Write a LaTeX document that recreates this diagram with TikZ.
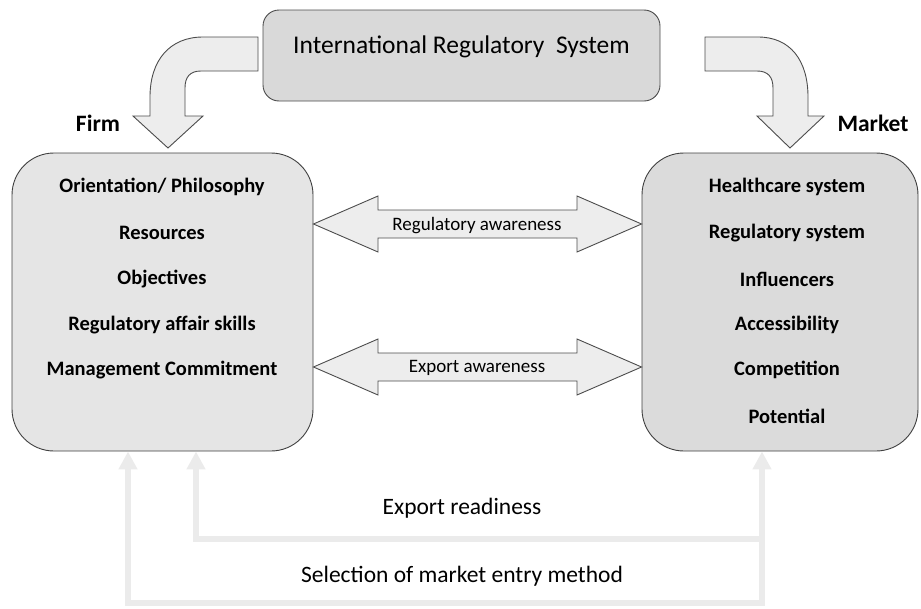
\documentclass[tikz,border=0pt]{standalone}
\usepackage{fontspec}
\setmainfont{Carlito}
\usepackage{tikz}
\usetikzlibrary{arrows.meta}

\tikzset{
	sysbox/.style={draw=black!70, line width=0.9pt, fill=gray!30, rounded corners=16pt},
	sidebox/.style={draw=black!75, line width=0.9pt, rounded corners=42pt},
	item/.style={font=\fontsize{20.5}{22}\selectfont\bfseries, inner sep=0pt},
	side/.style={font=\fontsize{23.5}{25}\selectfont\bfseries, inner sep=0pt},
	awlabel/.style={font=\fontsize{19}{21}\selectfont, inner sep=0pt},
	fblabel/.style={font=\fontsize{23.5}{25}\selectfont, inner sep=0pt},
	bigarrow/.style={draw=black!70, line width=0.9pt, fill=gray!14},
	feedback/.style={draw=gray!16, line width=5.5pt, -{Triangle[width=18pt,length=18pt]}},
}

\begin{document}
\begin{tikzpicture}[x=1pt, y=-1pt]
	
	\useasboundingbox (0,0) rectangle (921,608);
	
	\node[sysbox, minimum width=397pt, minimum height=91pt] (irs) at (461.5,55.5) {};
	\node[font=\fontsize{25.5}{27}\selectfont, inner sep=0pt] (irst) at (461.5,47) {International Regulatory\ \ System};
	
	\node[sidebox, fill=gray!20, minimum width=301pt, minimum height=298pt] (firm) at (162.5,302) {};
	\node[sidebox, fill=gray!28, minimum width=276pt, minimum height=298pt] (market) at (780,302) {};
	
	\node[side] (firmlbl) at (98,123) {Firm};
	\node[side] (marketlbl) at (873,123) {Market};
	
	\node[item] (f1) at (162,187) {Orientation/ Philosophy};
	\node[item] (f2) at (162,233) {Resources};
	\node[item] (f3) at (162,279) {Objectives};
	\node[item] (f4) at (162,325) {Regulatory affair skills};
	\node[item] (f5) at (162,370) {Management Commitment};
	
	\node[item] (m1) at (787,187) {Healthcare system};
	\node[item] (m2) at (787,233) {Regulatory system};
	\node[item] (m3) at (787,279) {Influencers};
	\node[item] (m4) at (787,325) {Accessibility};
	\node[item] (m5) at (787,370) {Competition};
	\node[item] (m6) at (787,416) {Potential};
	
	% curved arrows from the top box
	\draw[bigarrow] (258,37) -- (203,37) .. controls (170,37) and (150,60) .. (150,97) -- (150,116) -- (133,116) -- (168,148) -- (203,116) -- (185,116) -- (185,88) .. controls (185,77) and (190,71) .. (201,71) -- (258,71) -- cycle;
	\draw[bigarrow] (705,37) -- (758,37) .. controls (790,37) and (808,60) .. (808,97) -- (808,116) -- (824,116) -- (790,148) -- (757,116) -- (773,116) -- (773,88) .. controls (773,77) and (768,71) .. (757,71) -- (705,71) -- cycle;
	
	% double arrows between the boxes
	\draw[bigarrow] (firm.east |- 0,224) -- (378,196) -- (378,210) -- (577,210) -- (577,196) -- (market.west |- 0,224) -- (577,252) -- (577,238) -- (378,238) -- (378,252) -- cycle;
	\draw[bigarrow] (firm.east |- 0,367) -- (378,339) -- (378,353) -- (577,353) -- (577,339) -- (market.west |- 0,367) -- (577,395) -- (577,381) -- (378,381) -- (378,395) -- cycle;
	\node[awlabel] (regaw) at (477,226) {Regulatory awareness};
	\node[awlabel] (expaw) at (477,368) {Export awareness};
	
	% feedback lines
	\coordinate (fb1) at (128,603);
	\coordinate (fb2) at (196,539);
	\coordinate (fb3) at (762,603);
	\draw[feedback, {Triangle[width=18pt,length=18pt]}-{Triangle[width=18pt,length=18pt]}] (firm.south -| fb1) -- (fb1) -- (fb3) -- (market.south -| fb3);
	\draw[feedback] (fb2 -| fb3) -- (fb2) -- (firm.south -| fb2);
	\node[fblabel] (ready) at (462,508) {Export readiness};
	\node[fblabel] (entry) at (462,576) {Selection of market entry method};
	
\end{tikzpicture}
\end{document}
